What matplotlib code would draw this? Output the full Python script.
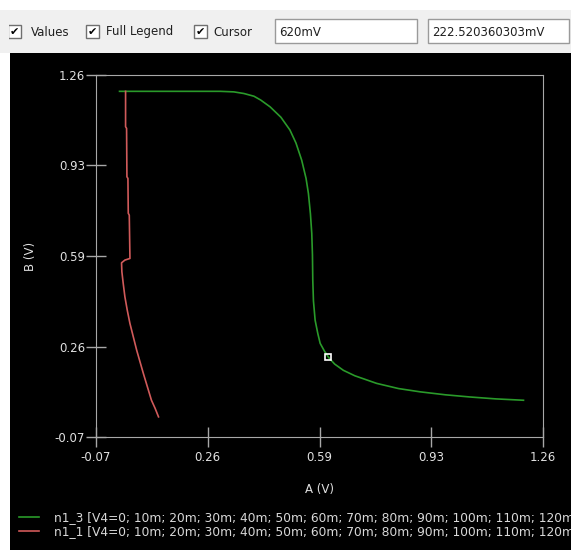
import matplotlib
matplotlib.use("Agg")
import matplotlib.pyplot as plt
import numpy as np
from matplotlib.patches import Rectangle

# data (volts)
green_x = [0.0, 0.10, 0.20, 0.30, 0.34, 0.37, 0.40, 0.42, 0.448, 0.48, 0.507, 0.525,
           0.542, 0.555, 0.562, 0.568, 0.572, 0.574, 0.575, 0.577, 0.582, 0.590, 0.597,
           0.610, 0.622, 0.640, 0.666, 0.70, 0.765, 0.83, 0.894, 0.97, 1.043, 1.12, 1.202]
green_y = [1.2, 1.2, 1.2, 1.2, 1.198, 1.192, 1.182, 1.168, 1.143, 1.105, 1.058, 1.01,
           0.947, 0.88, 0.825, 0.75, 0.678, 0.60, 0.506, 0.43, 0.359, 0.31, 0.274,
           0.245, 0.2225, 0.198, 0.175, 0.155, 0.127, 0.108, 0.096, 0.085, 0.077, 0.070, 0.065]

red_x = [0.018, 0.018, 0.021, 0.022, 0.025, 0.026, 0.029, 0.031, 0.016, 0.006, 0.007,
         0.011, 0.016, 0.023, 0.031, 0.041, 0.051, 0.061, 0.071, 0.083, 0.095, 0.106, 0.116]
red_y = [1.200, 1.070, 1.064, 0.886, 0.880, 0.752, 0.745, 0.586, 0.580, 0.570, 0.537,
         0.494, 0.445, 0.396, 0.347, 0.298, 0.249, 0.206, 0.163, 0.114, 0.065, 0.035, 0.004]

cursor_x, cursor_y = 0.620, 0.2225

tick_labels = ['-0.07', '0.26', '0.59', '0.93', '1.26']
sweep = ['0', '10m', '20m', '30m', '40m', '50m', '60m', '70m', '80m', '90m', '100m', '110m', '120m']
names = ['n1_3', 'n1_1']
toolbar_labels = ['Values', 'Full Legend', 'Cursor']
cursor_texts = ['620mV', '222.520360303mV']

W, H = 575, 550
fig = plt.figure(figsize=(W / 100, H / 100), dpi=100, facecolor='white')
plt.rcParams['font.family'] = 'DejaVu Sans'

# background in pixel coordinates
bg = fig.add_axes([0, 0, 1, 1])
bg.set_xlim(0, W)
bg.set_ylim(H, 0)
bg.axis('off')
bg.add_patch(Rectangle((0, 10), W, 43, facecolor='#f0f0f0', edgecolor='none'))
bg.add_patch(Rectangle((10, 53), 561, H - 53, facecolor='black', edgecolor='none'))

# toolbar: checkboxes + text boxes (first box is cut by the screenshot edge)
box_x = [8, 86, 194]
text_x = [31, 106, 213]
for i, (bx, tx, lab) in enumerate(zip(box_x, text_x, toolbar_labels)):
    bg.add_patch(Rectangle((bx, 25), 13, 13, facecolor='white', edgecolor='#707070', lw=1))
    bg.text(bx + 6.5, 31.5, '\u2714', ha='center', va='center', fontsize=8, color='black')
    bg.text(tx, 32, lab, ha='left', va='center', fontsize=8.5, color='#202020')
bg.add_patch(Rectangle((0, 20), 9, 22, facecolor='#f0f0f0', edgecolor='none'))
for (x0, x1), t in zip([(275, 417), (428, 569)], cursor_texts):
    bg.add_patch(Rectangle((x0, 19), x1 - x0, 24, facecolor='white', edgecolor='#9a9a9a', lw=1))
    bg.text(x0 + 4, 32, t, ha='left', va='center', fontsize=8.5, color='#202020')

# main plot
ax = fig.add_axes([96 / W, 1 - 437 / H, 447 / W, 362 / H], facecolor='black')
ax.plot(green_x, green_y, color='#2a9a2a', lw=1.2, label=f"{names[0]} [V4={'; '.join(sweep)}")
ax.plot(red_x, red_y, color='#d05a5a', lw=1.2, label=f"{names[1]} [V4={'; '.join(sweep)}")
ax.plot([cursor_x], [cursor_y], marker='s', ms=5, mfc='none', mec='white', mew=1.2)

ticks = np.linspace(-0.07, 1.26, 5)
ax.set_xlim(-0.07, 1.26)
ax.set_ylim(-0.07, 1.26)
ax.set_xticks(ticks, tick_labels)
ax.set_yticks(ticks, tick_labels)
for s in ax.spines.values():
    s.set_color('#a8a8a8')
ax.tick_params(direction='inout', length=14, width=1, color='#a8a8a8',
               labelcolor='#e0e0e0', labelsize=8.5)
ax.tick_params(axis='x', pad=3)
ax.tick_params(axis='y', pad=1)

ax.set_xlabel('A (V)', color='#e0e0e0', fontsize=8.5, va='center')
ax.xaxis.set_label_coords(0.5, -(489 - 437) / 362)
ax.set_ylabel('B (V)', color='#e0e0e0', fontsize=8.5, va='center')
ax.yaxis.set_label_coords(-(96 - 30) / 447, 0.5)

fig.legend(loc='upper left', bbox_to_anchor=(19 / W, 1 - 511 / H), bbox_transform=fig.transFigure,
           frameon=False, fontsize=8.8, labelcolor='#d8d8d8', borderpad=0, borderaxespad=0,
           handlelength=1.6, handletextpad=1.3, labelspacing=0.1)

# white strip at right edge covers the clipped legend text
fig.patches.append(Rectangle((571 / W, 0), 4 / W, 1, transform=fig.transFigure,
                             facecolor='white', edgecolor='none', zorder=10, figure=fig))

fig.savefig('out.png', dpi=100, facecolor='white')
